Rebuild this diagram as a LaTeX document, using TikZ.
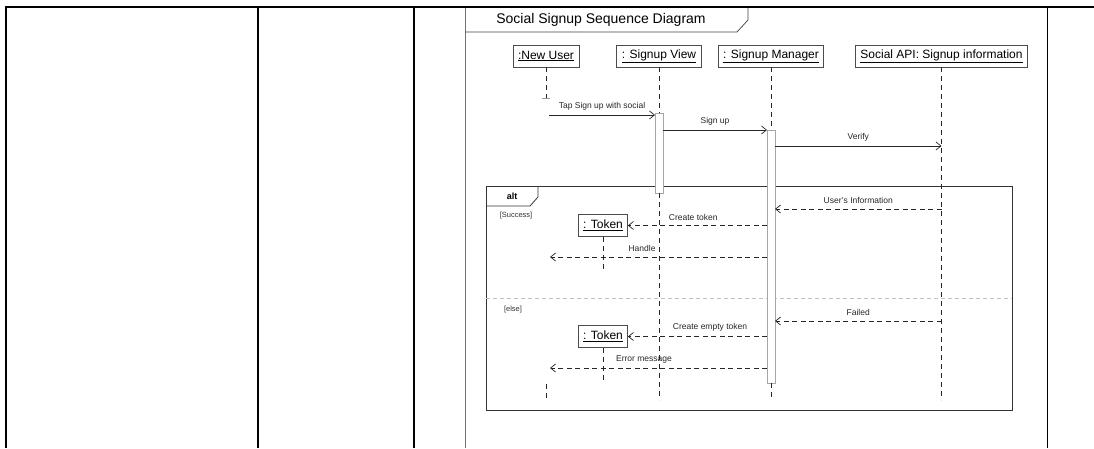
\documentclass[tikz,border=0pt]{standalone}
\usepackage{fontspec}
\setmainfont{Liberation Sans}
\usetikzlibrary{arrows.meta,positioning}

\begin{document}
\begin{tikzpicture}
      [ x=1pt, y=-1pt,
        every node/.style={inner sep=0pt, outer sep=0pt},
        tblline/.style={line width=1.7pt, black},
        head/.style={draw=black!70, line width=1pt, fill=white, minimum height=22pt,
          inner xsep=5pt, font=\fontsize{12}{14}\selectfont}, %
        lifeline/.style={black!85, line width=0.8pt, dash pattern=on 5pt off 4pt},
        actbar/.style={draw=black!35, fill=white, line width=0.6pt, minimum width=8pt},
        call/.style={black!85, line width=0.7pt, -{Straight Barb[length=5pt,width=8pt]}},
        reply/.style={call, dash pattern=on 5pt off 3.5pt}, % dashed return
        msglbl/.style={above=5pt, font=\fontsize{8.5}{10}\selectfont, black!85},
        guard/.style={font=\fontsize{7.5}{9}\selectfont, black!80}
      ]
      \useasboundingbox (0,0) rectangle (1094,448);
      % table around the picture
      \draw[tblline] (5,7) -- (1094,7);
      \draw[tblline] (6,7) -- (6,448);
      \draw[tblline] (258,7) -- (258,448);
      \draw[tblline] (414,7) -- (414,448);
      \draw[black!55, line width=0.8pt] (465,8) -- (465,448);
      \draw[black, line width=0.8pt] (1047,7) -- (1047,448);
      % frame title
      \draw[black!75, line width=0.7pt] (465,32) -- (737,32) -- (748,20) -- (748,8);
      \node[font=\fontsize{14}{16}\selectfont] (title) at (601,20) {Social Signup Sequence Diagram};

      % lifeline heads
      \node[head] (newuser) at (546,56) {\underline{:New User}};
      \node[head] (view) at (659,56) {\underline{: Signup View}};
      \node[head] (manager) at (771,56) {\underline{: Signup Manager}};
      \node[head] (api) at (941.5,56) {\underline{Social API: Signup information}};

      % alt fragment
      \draw[black!80, line width=0.8pt] (486,186) rectangle (1012,410);
      \draw[black!80, line width=0.8pt] (486,206) -- (530,206) -- (538,197) -- (538,186);
      \node[font=\fontsize{9}{10}\bfseries] (alt) at (512,196) {alt};
      \draw[black!25, line width=0.6pt, dash pattern=on 4pt off 3pt] (486,298) -- (1012,298);
      \node[guard] (success) at (516,216) {[Success]};
      \node[guard] (else) at (513,310) {[else]};

      % activation bars
      \node[actbar, minimum height=80pt, anchor=north] (viewact) at (659,113) {};
      \node[actbar, minimum height=253pt, anchor=north] (mgract) at (771,130) {};

      % token objects
      \node[head] (token1) at (603,225.5) {\underline{: Token}};
      \node[head] (token2) at (603,336.5) {\underline{: Token}};

      % lifelines
      \coordinate (nuend) at (546,98);
      \draw[lifeline] (newuser.south) -- (nuend);
      \draw[black!40, line width=0.6pt] ([xshift=-4pt]nuend) -- ([xshift=4pt]nuend);
      \draw[lifeline] (546,384) -- (546,400);
      \draw[lifeline] (view.south) -- (viewact.north);
      \draw[lifeline] (viewact.south) -- (659,400);
      \draw[lifeline] (manager.south) -- (mgract.north);
      \draw[lifeline] (mgract.south) -- (771,400);
      \draw[lifeline] (api.south) -- (941.5,400);
      \draw[lifeline] (token1.south) -- ++(0,35);
      \draw[lifeline] (token2.south) -- ++(0,34);

      % messages
      \draw[call] ([xshift=3pt]newuser.south |- 0,115) -- (viewact.west |- 0,115)
        node[msglbl, pos=0.5] (taplbl) {Tap Sign up with social};
      \draw[call] (viewact.east |- 0,130) -- (mgract.west |- 0,130)
        node[msglbl, pos=0.5] (signuplbl) {Sign up};
      \draw[call] (mgract.east |- 0,146) -- (api.south |- 0,146)
        node[msglbl, pos=0.5] (verifylbl) {Verify};
      \draw[reply] (api.south |- 0,209) -- (mgract.east |- 0,209)
        node[msglbl, pos=0.5] (infolbl) {User's Information};
      \draw[reply] (mgract.west |- token1) -- (token1.east)
        node[msglbl, pos=0.53] (tokenlbl) {Create token};
      \draw[reply] (mgract.west |- 0,257) -- ([xshift=4pt]newuser.south |- 0,257)
        node[msglbl, pos=0.576] (handlelbl) {Handle};
      \draw[reply] (api.south |- 0,321) -- (mgract.east |- 0,321)
        node[msglbl, pos=0.5] (failedlbl) {Failed};
      \draw[reply] (mgract.west |- token2) -- (token2.east)
        node[msglbl, pos=0.41] (emptylbl) {Create empty token};
      \draw[reply] (mgract.west |- 0,368) -- ([xshift=4pt]newuser.south |- 0,368)
        node[msglbl, pos=0.567] (errorlbl) {Error message};
\end{tikzpicture}
\end{document}
